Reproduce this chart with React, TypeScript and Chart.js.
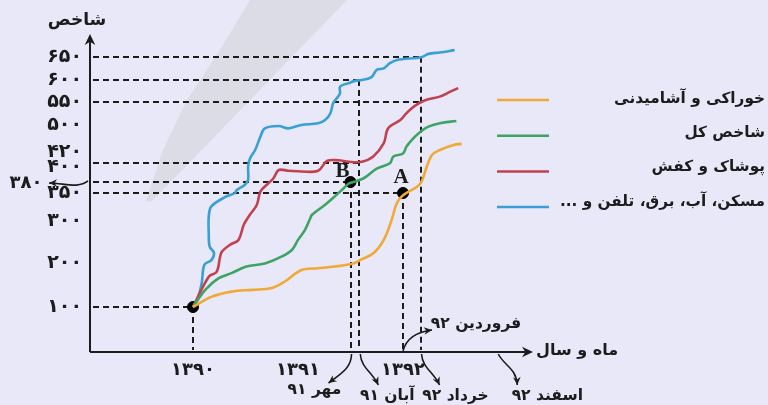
import React, { useEffect, useRef } from 'react';
import { Chart, registerables, LinearScale } from 'chart.js';

// ---------- data ----------
const SERIES_NAMES = ['خوراکی و آشامیدنی', 'شاخص کل', 'پوشاک و کفش', 'مسکن، آب، برق، تلفن و ...'];
const SERIES_COLORS = ['#f0a935', '#3ea463', '#c1424e', '#3a9fd2'];

// months counted from Farvardin 1390 (= 0)
const FOOD_MONTHS = [0, 2.1, 4.4, 6.7, 9.0, 10.5, 12.4, 14.3, 16.2, 18.3, 19.1, 20.6, 21.8, 22.7, 23.3, 24.0, 25.6, 26.1, 26.7, 27.3, 28.2, 29.8, 30.7];
const FOOD_VALUES = [100, 123, 135, 139, 143, 158, 184, 188, 192, 199, 207, 223, 255, 302, 332, 346, 367, 380, 400, 416, 426, 441, 444];

const TOTAL_MONTHS = [0, 1.4, 2.9, 4.4, 6.1, 8.2, 10.1, 11.3, 12.0, 12.8, 13.4, 13.6, 15.1, 16.0, 17.0, 17.8, 18.3, 19.5, 21.0, 22.5, 22.9, 24.0, 24.4, 25.2, 26.1, 26.9, 28.2, 30.1];
const TOTAL_VALUES = [100, 139, 165, 177, 192, 199, 215, 231, 255, 279, 305, 311, 329, 341, 358, 376, 380, 385, 398, 405, 414, 418, 436, 461, 482, 495, 504, 509];

const CLOTHING_MONTHS = [0, 1.8, 2.7, 3.1, 3.3, 4.2, 5.2, 5.8, 6.5, 7.3, 7.7, 8.6, 9.2, 9.8, 10.9, 12.4, 14.3, 15.3, 16.6, 17.8, 19.3, 20.6, 21.8, 22.3, 23.7, 24.2, 25.0, 25.8, 26.7, 28.2, 29.4, 30.3];
const CLOTHING_VALUES = [100, 169, 180, 215, 227, 243, 255, 291, 311, 329, 354, 376, 385, 396, 395, 394, 395, 408, 409, 407, 407, 414, 446, 490, 511, 522, 537, 548, 556, 563, 574, 582];

const HOUSING_MONTHS = [0, 0.6, 1.0, 1.3, 2.1, 2.4, 1.9, 1.8, 1.8, 2.1, 3.7, 4.8, 5.0, 5.9, 6.3, 6.3, 6.5, 7.1, 7.7, 8.2, 9.8, 10.9, 12.4, 14.3, 15.1, 15.7, 16.0, 16.4, 16.8, 16.8, 17.8, 18.5, 19.3, 20.4, 21.0, 21.8, 22.5, 23.3, 26.1, 26.9, 28.2, 29.9];
const HOUSING_VALUES = [100, 123, 155, 196, 207, 224, 239, 271, 308, 326, 343, 350, 358, 372, 383, 400, 411, 426, 465, 490, 497, 490, 500, 504, 511, 526, 548, 559, 570, 585, 593, 598, 600, 606, 622, 625, 636, 643, 649, 656, 659, 664];

const Y_TICKS = [100, 200, 300, 350, 400, 420, 500, 550, 600, 650];
const X_TICKS = [0, 12, 24];
const X_TICK_LABELS = ['۱۳۹۰', '۱۳۹۱', '۱۳۹۲'];

const POINT_MONTHS = [0, 18, 24];
const POINT_VALUES = [100, 380, 350];
const POINT_LABELS = ['', 'B', 'A'];

const H_GUIDE_VALUES = [650, 600, 550, 405, 380, 350, 100];
const H_GUIDE_END_MONTHS = [26, 19, 26, 19, 18, 24, 0];
const V_GUIDE_MONTHS = [0, 18, 19, 24, 26];
const V_GUIDE_TOP_VALUES = [100, 380, 600, 350, 650];

const MONTH_NOTE_LABELS = ['مهر ۹۱', 'آبان ۹۱', 'فروردین ۹۲', 'خرداد ۹۲', 'اسفند ۹۲'];
const MONTH_NOTE_MONTHS = [18, 19, 24, 26, 35];

const SIDE_NOTE_VALUE = 380;
const Y_TITLE = 'شاخص';
const X_TITLE = 'ماه و سال';

// warped (hand-drawn) value axis: value -> fraction of axis height
const Y_WARP_VALUES = [0, 100, 200, 300, 350, 380, 400, 420, 500, 550, 600, 650, 694];
const Y_WARP_FRACTIONS = [0, 0.1424, 0.2816, 0.4146, 0.5032, 0.538, 0.5854, 0.6329, 0.7184, 0.7896, 0.8608, 0.9345, 1];

// ---------- helpers ----------
const FA = (n: number | string) => String(n).replace(/\d/g, (d) => '۰۱۲۳۴۵۶۷۸۹'[+d]);

function interp(v: number, xs: number[], ys: number[]) {
  if (v <= xs[0]) return ys[0] + (v - xs[0]) * (ys[1] - ys[0]) / (xs[1] - xs[0]);
  for (let i = 1; i < xs.length; i++) {
    if (v <= xs[i]) return ys[i - 1] + (v - xs[i - 1]) * (ys[i] - ys[i - 1]) / (xs[i] - xs[i - 1]);
  }
  const n = xs.length - 1;
  return ys[n] + (v - xs[n]) * (ys[n] - ys[n - 1]) / (xs[n] - xs[n - 1]);
}

class WarpScale extends LinearScale {
  static id = 'warp';
  static defaults = {};
  getPixelForValue(value: number) {
    const f = interp(value, Y_WARP_VALUES, Y_WARP_FRACTIONS);
    return this.bottom - f * (this.bottom - this.top);
  }
  getValueForPixel(pixel: number) {
    const f = (this.bottom - pixel) / (this.bottom - this.top);
    return interp(f, Y_WARP_FRACTIONS, Y_WARP_VALUES);
  }
}

Chart.register(...registerables, WarpScale);

const BG = '#e8e8f9';
const INK = '#1c1c1c';
const FONT = '"DejaVu Sans", sans-serif';

function arrowHead(ctx: CanvasRenderingContext2D, x: number, y: number, ang: number, size = 9) {
  ctx.save();
  ctx.translate(x, y);
  ctx.rotate(ang);
  ctx.beginPath();
  ctx.moveTo(0, 0);
  ctx.lineTo(-size, -size * 0.48);
  ctx.lineTo(-size * 0.7, 0);
  ctx.lineTo(-size, size * 0.48);
  ctx.closePath();
  ctx.fill();
  ctx.restore();
}

function curvedArrow(ctx: CanvasRenderingContext2D, p: number[], size = 8) {
  const [x0, y0, c1x, c1y, c2x, c2y, x1, y1] = p;
  ctx.beginPath();
  ctx.moveTo(x0, y0);
  ctx.bezierCurveTo(c1x, c1y, c2x, c2y, x1, y1);
  ctx.stroke();
  arrowHead(ctx, x1, y1, Math.atan2(y1 - c2y, x1 - c2x), size);
}

function rtlText(ctx: CanvasRenderingContext2D, s: string, x: number, y: number, align: CanvasTextAlign, size = 15) {
  ctx.font = `bold ${size}px ${FONT}`;
  ctx.textAlign = align;
  ctx.textBaseline = 'middle';
  ctx.direction = 'rtl';
  ctx.fillStyle = INK;
  ctx.fillText(s, x, y);
}

const decoPlugin = {
  id: 'deco',
  beforeDraw(chart: any) {
    const ctx = chart.ctx as CanvasRenderingContext2D;
    ctx.save();
    ctx.fillStyle = BG;
    ctx.fillRect(0, 0, chart.width, chart.height);
    // faint grey stripe
    ctx.fillStyle = '#dcdce7';
    ctx.beginPath();
    const band = [[250, 0], [347, 0], [158, 195], [150, 202], [146, 201], [153, 180], [163, 150], [187, 100], [220, 50]];
    band.forEach(([x, y], i) => (i ? ctx.lineTo(x, y) : ctx.moveTo(x, y)));
    ctx.closePath();
    ctx.fill();
    ctx.restore();
  },
  beforeDatasetsDraw(chart: any) {
    const ctx = chart.ctx as CanvasRenderingContext2D;
    const xs = chart.scales.x;
    const ys = chart.scales.y;
    const area = chart.chartArea;
    ctx.save();
    ctx.strokeStyle = INK;
    ctx.lineWidth = 2;
    ctx.setLineDash([6, 4]);
    H_GUIDE_VALUES.forEach((v, i) => {
      const y = Math.round(ys.getPixelForValue(v));
      ctx.beginPath();
      ctx.moveTo(area.left + 3, y);
      ctx.lineTo(xs.getPixelForValue(H_GUIDE_END_MONTHS[i]), y);
      ctx.stroke();
    });
    V_GUIDE_MONTHS.forEach((m, i) => {
      const x = Math.round(xs.getPixelForValue(m));
      ctx.beginPath();
      ctx.moveTo(x, ys.getPixelForValue(V_GUIDE_TOP_VALUES[i]));
      ctx.lineTo(x, area.bottom - 2);
      ctx.stroke();
    });
    ctx.restore();
  },
  afterDraw(chart: any) {
    const ctx = chart.ctx as CanvasRenderingContext2D;
    const xs = chart.scales.x;
    const ys = chart.scales.y;
    const area = chart.chartArea;
    ctx.save();
    ctx.strokeStyle = INK;
    ctx.fillStyle = INK;
    ctx.lineWidth = 2;
    // axes with arrows
    ctx.beginPath();
    ctx.moveTo(area.left, area.bottom);
    ctx.lineTo(area.left, area.top + 4);
    ctx.stroke();
    arrowHead(ctx, area.left, area.top - 2, -Math.PI / 2, 11);
    ctx.beginPath();
    ctx.moveTo(area.left, area.bottom);
    ctx.lineTo(area.right - 4, area.bottom);
    ctx.stroke();
    arrowHead(ctx, area.right + 3, area.bottom, 0, 11);

    // axis titles
    rtlText(ctx, Y_TITLE, 77, 21, 'center', 17);
    rtlText(ctx, X_TITLE, 536, 351, 'left', 16);

    // point labels
    ctx.font = `bold 21px "Liberation Serif", serif`;
    ctx.textAlign = 'center';
    ctx.textBaseline = 'middle';
    ctx.direction = 'ltr';
    POINT_LABELS.forEach((s, i) => {
      if (!s) return;
      const px = xs.getPixelForValue(POINT_MONTHS[i]);
      const py = ys.getPixelForValue(POINT_VALUES[i]);
      const [dx, dy] = s === 'B' ? [-8, -10] : [-2, -15];
      ctx.fillText(s, px + dx, py + dy);
    });

    // side note "380" with wavy arrow
    const y380 = ys.getPixelForValue(SIDE_NOTE_VALUE);
    ctx.lineWidth = 1.6;
    curvedArrow(ctx, [88, y380 - 1, 78, y380 + 7, 64, y380 + 1, 49, y380 + 1], 8);
    rtlText(ctx, FA(SIDE_NOTE_VALUE), 26, y380 + 1, 'center', 18);

    // month notes with curved arrows
    ctx.lineWidth = 1.6;
    MONTH_NOTE_MONTHS.forEach((m, i) => {
      const x = xs.getPixelForValue(m);
      const b = area.bottom;
      let arrow: number[];
      let tx: number;
      let ty: number;
      if (i === 0) {
        arrow = [x + 1, b + 2, x + 1, b + 16, x - 10, b + 22, x - 22, b + 31];
        tx = x - 36; ty = b + 38;
      } else if (i === 2) {
        arrow = [x, b - 1, x + 3, b - 13, x + 13, b - 20, x + 29, b - 22];
        tx = x + 73; ty = b - 28;
      } else if (i === 4) {
        arrow = [x - 1, b + 2, x + 5, b + 14, x + 17, b + 16, x + 18, b + 33];
        tx = x + 48; ty = b + 44;
      } else {
        arrow = [x + 1, b + 2, x + 2, b + 16, x + 13, b + 20, x + 19, b + 33];
        tx = x + (i === 1 ? 28 : 35); ty = b + 44;
      }
      ctx.strokeStyle = INK;
      ctx.fillStyle = INK;
      curvedArrow(ctx, arrow, 8);
      rtlText(ctx, MONTH_NOTE_LABELS[i], tx, ty, 'center', 15.5);
    });

    // legend
    chart.data.datasets.slice(0, 4).forEach((ds: any, i: number) => {
      const ly = 100 + i * 35.7;
      ctx.strokeStyle = ds.borderColor;
      ctx.lineWidth = 2.5;
      ctx.beginPath();
      ctx.moveTo(497, ly);
      ctx.lineTo(549, ly);
      ctx.stroke();
      rtlText(ctx, ds.label, 765, ly - 1 - i * 1.5, 'right', 15.3);
    });
    ctx.restore();
  },
};

function series(months: number[], values: number[]) {
  return months.map((m, i) => ({ x: m, y: values[i] }));
}

export default function App() {
  const ref = useRef<HTMLCanvasElement>(null);
  useEffect(() => {
    if (!ref.current) return;
    const line = (i: number, months: number[], values: number[]) => ({
      type: 'line',
      label: SERIES_NAMES[i],
      data: series(months, values),
      borderColor: SERIES_COLORS[i],
      backgroundColor: SERIES_COLORS[i],
      borderWidth: 2.6,
      pointRadius: 0,
      tension: 0.35,
      fill: false,
    });
    const chart = new Chart(ref.current, {
      type: 'line',
      data: {
        datasets: [
          line(0, FOOD_MONTHS, FOOD_VALUES),
          line(1, TOTAL_MONTHS, TOTAL_VALUES),
          line(2, CLOTHING_MONTHS, CLOTHING_VALUES),
          line(3, HOUSING_MONTHS, HOUSING_VALUES),
          {
            type: 'scatter',
            label: 'points',
            data: series(POINT_MONTHS, POINT_VALUES),
            pointRadius: 5.5,
            pointBackgroundColor: '#000',
            pointBorderColor: '#000',
            showLine: false,
          },
        ] as any,
      },
      options: {
        animation: false,
        responsive: false,
        events: [],
        layout: { autoPadding: false, padding: { top: 36, right: 238, left: 0, bottom: 0 } },
        plugins: { legend: { display: false }, tooltip: { enabled: false } },
        scales: {
          x: {
            type: 'linear',
            min: -11.77,
            max: 38.51,
            grid: { display: false, drawTicks: false },
            border: { display: false },
            afterFit: (s: any) => { s.height = 53; },
            afterBuildTicks: (s: any) => { s.ticks = X_TICKS.map((v) => ({ value: v })); },
            ticks: {
              autoSkip: false,
              maxRotation: 0,
              minRotation: 0,
              padding: 8,
              color: INK,
              font: { family: FONT, weight: 'bold', size: 18 },
              callback: (v: any) => X_TICK_LABELS[X_TICKS.indexOf(Number(v))] ?? '',
            },
          },
          y: {
            type: 'warp',
            min: 0,
            max: 694,
            grid: { display: false, drawTicks: false },
            border: { display: false },
            afterFit: (s: any) => { s.width = 90; },
            afterBuildTicks: (s: any) => { s.ticks = Y_TICKS.map((v) => ({ value: v })); },
            ticks: {
              autoSkip: false,
              padding: 8,
              color: INK,
              font: { family: FONT, weight: 'bold', size: 19 },
              callback: (v: any) => FA(v),
            },
          },
        } as any,
      },
      plugins: [decoPlugin],
    } as any);
    return () => chart.destroy();
  }, []);
  return (
    <div style={{ position: 'fixed', left: 0, top: 0, width: 768, height: 405, background: BG }}>
      <canvas ref={ref} width={768} height={405} style={{ display: 'block' }} />
    </div>
  );
}
